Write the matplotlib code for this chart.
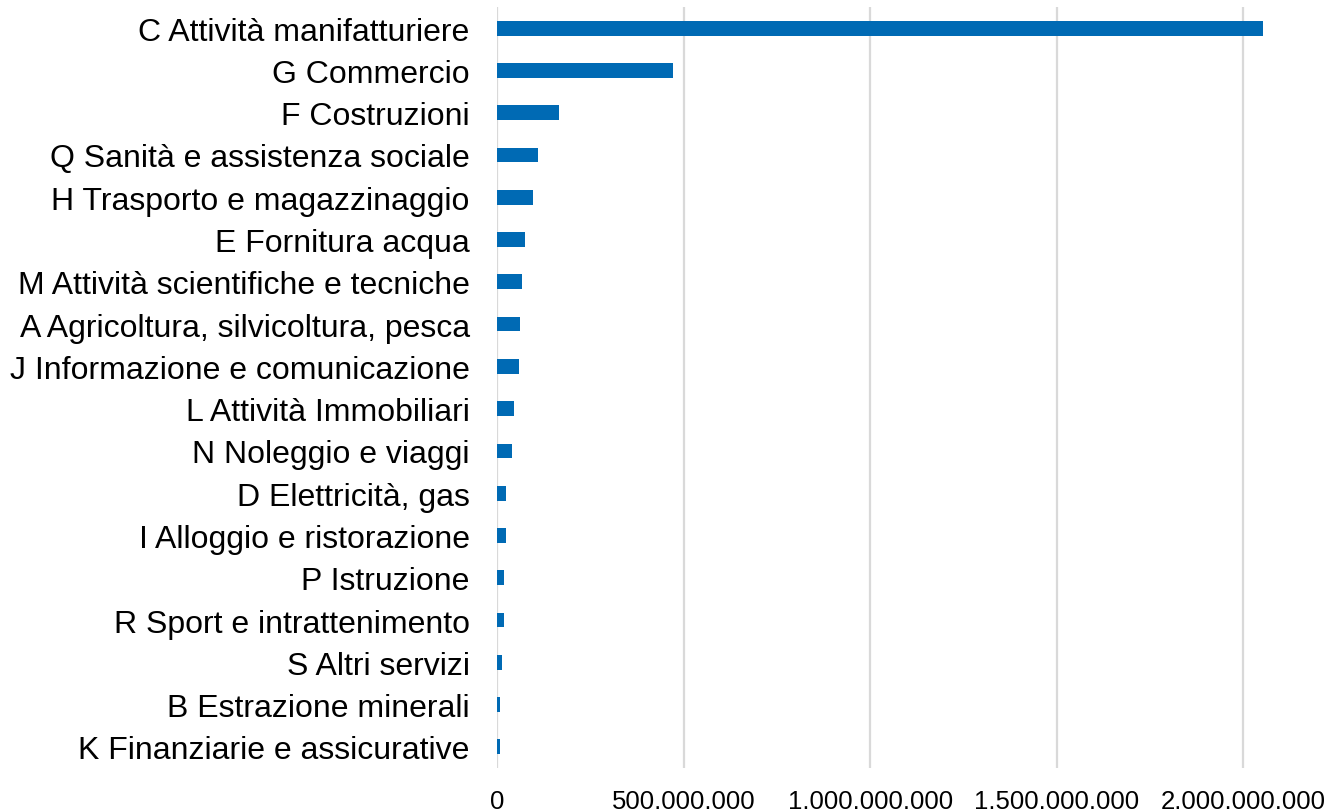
import matplotlib.pyplot as plt
from matplotlib.ticker import FuncFormatter

# settori economici e valori
settori = [
    "C Attività manifatturiere",
    "G Commercio",
    "F Costruzioni",
    "Q Sanità e assistenza sociale",
    "H Trasporto e magazzinaggio",
    "E Fornitura acqua",
    "M Attività scientifiche e tecniche",
    "A Agricoltura, silvicoltura, pesca",
    "J Informazione e comunicazione",
    "L Attività Immobiliari",
    "N Noleggio e viaggi",
    "D Elettricità, gas",
    "I Alloggio e ristorazione",
    "P Istruzione",
    "R Sport e intrattenimento",
    "S Altri servizi",
    "B Estrazione minerali",
    "K Finanziarie e assicurative",
]
valori = [
    2054e6, 471e6, 166e6, 109e6, 94e6, 73e6, 65e6, 60e6, 57e6,
    44e6, 40e6, 24e6, 23e6, 18e6, 17e6, 12e6, 8e6, 6e6,
]
tick_valori = [0, 500e6, 1000e6, 1500e6, 2000e6]

plt.rcParams['font.family'] = ['Liberation Sans', 'DejaVu Sans']

fig = plt.figure(figsize=(13.32, 8.12), dpi=100)
ax = fig.add_axes([497.5 / 1332, 43 / 812, 2.2e9 / 500e6 * 186.4 / 1332, 761 / 812])

pos = list(range(len(settori)))
ax.barh(pos, valori, height=0.35, color='#006AB4', zorder=3)

ax.set_ylim(len(settori) - 0.5, -0.5)
ax.set_xlim(0, 2.2e9)
ax.set_yticks(pos)
ax.set_yticklabels(settori, fontsize=23, color='#000000')
ax.set_xticks(tick_valori)
ax.xaxis.set_major_formatter(FuncFormatter(lambda v, p: f"{int(v):,}".replace(",", ".")))
ax.tick_params(axis='x', labelsize=18.5, length=0, pad=15)
ax.tick_params(axis='y', length=0, pad=20)

ax.grid(axis='x', color='#D9D9D9', linewidth=1.6, zorder=0)
for s in ax.spines.values():
    s.set_visible(False)

fig.savefig('out.png', dpi=100)
